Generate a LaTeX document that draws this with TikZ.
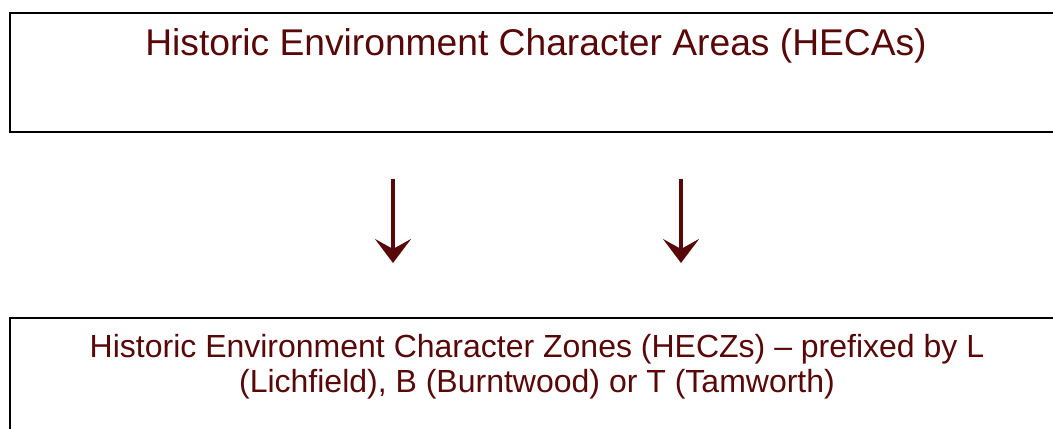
\documentclass[tikz,border=0pt]{standalone}
\usepackage{fontspec}
\setmainfont{Liberation Sans}
\usetikzlibrary{arrows.meta}
\definecolor{maroon}{RGB}{88,8,8}
\begin{document}
\begin{tikzpicture}[x=0.5pt,y=-0.5pt, txt/.style={text=maroon, inner sep=0pt, align=center}]
\tikzstyle{box}=[draw, line width=1pt, minimum width=527pt, anchor=north west, inner sep=0pt]
\tikzstyle{arr}=[draw=maroon, line width=1.75pt, -{Stealth[length=12pt, width=18pt, inset=5pt]}]
\useasboundingbox (0,0) rectangle (1053,428);
\clip (0,0) rectangle (1053,428);
\node[box, minimum height=59.5pt] (areas) at (9,12) {};
\node[box, minimum height=80pt] (zones) at (9,317) {};
\node[txt, font=\fontsize{18.6}{22}\selectfont] (areastxt) at (536,46) {Historic Environment Character Areas (HECAs)};
\node[txt, font=\fontsize{16}{17.5}\selectfont] (zonestxt) at (537,367) {Historic Environment Character Zones (HECZs) – prefixed by L\\(Lichfield), B (Burntwood) or T (Tamworth)};
\foreach \n/\x in {1/393,2/681}{
  \coordinate (s\n) at (\x,179);
  \coordinate (e\n) at (\x,263);
  \draw[arr] (s\n) -- (e\n);
}
\end{tikzpicture}
\end{document}
